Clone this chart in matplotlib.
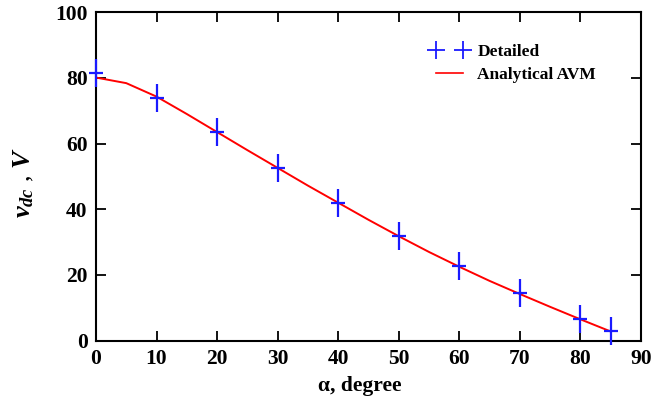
import matplotlib.pyplot as plt
from matplotlib.path import Path
from matplotlib.lines import Line2D

# Detailed model (blue crosses)
alpha_det = [0, 10, 20, 30, 40, 50, 60, 70, 80, 85]
vdc_det = [81.6, 74.0, 63.4, 52.5, 41.8, 32.0, 22.7, 14.4, 6.7, 3.0]

# Analytical AVM (red line)
alpha_avm = [0, 5, 10, 15, 20, 25, 30, 35, 40, 45, 50, 55, 60, 65, 70, 75, 80, 85]
vdc_avm = [80.1, 78.4, 74.3, 69.0, 63.5, 58.0, 52.6, 47.2, 42.0, 36.8,
           31.8, 27.0, 22.5, 18.2, 14.2, 10.3, 6.5, 2.8]

plt.rcParams["font.family"] = "Liberation Serif"
plt.rcParams["font.weight"] = "bold"
plt.rcParams["mathtext.fontset"] = "custom"
plt.rcParams["mathtext.it"] = "Liberation Serif:italic:bold"
plt.rcParams["mathtext.rm"] = "Liberation Serif:bold"

# tall cross: vertical arm twice the horizontal one
cross = Path([(-0.5, 0), (0.5, 0), (0, -1), (0, 1)],
             [Path.MOVETO, Path.LINETO, Path.MOVETO, Path.LINETO])

fig = plt.figure(figsize=(6.68, 4.01), dpi=100)
ax = fig.add_axes([0.1437, 0.1504, 0.8159, 0.8192])

ax.plot(alpha_avm, vdc_avm, color="red", lw=1.4, zorder=2)
ax.plot(alpha_det, vdc_det, ls="none", marker=cross, ms=20, mew=1.6,
        color="#1a1aff", zorder=3, clip_on=False)

ax.set_xlim(0, 90)
ax.set_ylim(0, 100)
ax.set_xticks(range(0, 91, 10))
ax.set_yticks(range(0, 101, 20))
ax.tick_params(direction="in", length=7, width=1.3, top=True, right=True,
               labelsize=15.5, pad=6)
for s in ax.spines.values():
    s.set_linewidth(1.5)

ax.set_xlabel("α, degree", fontsize=15.5, fontweight="bold", labelpad=5)
ax.xaxis.label.set_x(0.484)
ax.set_ylabel(r"$v_{dc}$ , $V$", fontsize=19, labelpad=14)
ax.yaxis.label.set_y(0.48)

handles = [
    Line2D([], [], ls="none", marker="+", ms=13, mew=1.3, color="#1a1aff"),
    Line2D([], [], color="red", lw=1.2),
]
ax.legend(handles, ["Detailed", "Analytical AVM"], loc="upper left",
          bbox_to_anchor=(0.585, 0.95), frameon=False, numpoints=2,
          handlelength=2.2, handletextpad=0.5, labelspacing=0.35,
          prop={"size": 12.5, "weight": "bold"})

fig.savefig("out.png", dpi=100)
